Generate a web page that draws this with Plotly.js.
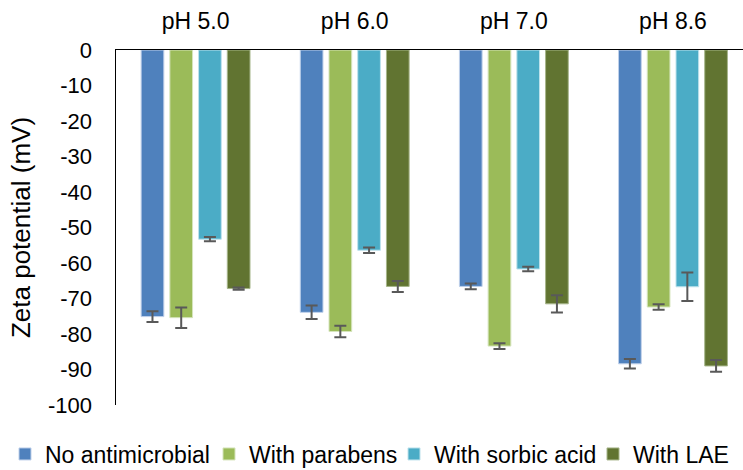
<!DOCTYPE html>
<html>
<head>
<meta charset="utf-8">
<script src="https://cdn.plot.ly/plotly-3.0.1.min.js"></script>
<style>html,body{margin:0;padding:0;background:#fff;}#chart{width:743px;height:470px;}</style>
</head>
<body>
<div id="chart"></div>
<script>
const categories = ["pH 5.0", "pH 6.0", "pH 7.0", "pH 8.6"];
const seriesNames = ["No antimicrobial", "With parabens", "With sorbic acid", "With LAE"];
const noAntimicrobial = [-75.1, -73.9, -66.6, -88.4];
const noAntimicrobialErr = [1.5, 1.9, 0.8, 1.35];
const withParabens = [-75.4, -79.3, -83.4, -72.4];
const withParabensErr = [2.9, 1.6, 0.8, 0.8];
const withSorbic = [-53.3, -56.4, -61.7, -66.7];
const withSorbicErr = [0.6, 0.75, 0.65, 4.0];
const withLAE = [-67.2, -66.6, -71.5, -89.0];
const withLAEErr = [0.3, 1.55, 2.45, 1.65];
const yTicks = [0, -10, -20, -30, -40, -50, -60, -70, -80, -90, -100];

const colors = ["#4F81BD", "#9BBB59", "#4BACC6", "#617431"];
const outlines = ["#BFD0EA", "#D5E4BC", "#BEE2EC", "#A6B58A"];
const vals = [noAntimicrobial, withParabens, withSorbic, withLAE];
const errs = [noAntimicrobialErr, withParabensErr, withSorbicErr, withLAEErr];
const legendIds = ["legend", "legend2", "legend3", "legend4"];
const legendTextX = [47, 251, 436, 635];

const FAM = "Liberation Sans, Arial, sans-serif";

const traces = vals.map((v, i) => ({
  type: "bar",
  name: seriesNames[i],
  x: categories,
  y: v,
  legend: legendIds[i],
  marker: {color: colors[i], line: {color: outlines[i], width: 1}},
  error_y: {type: "data", array: errs[i], visible: true, color: "#595959", thickness: 2, width: 6}
}));

const layout = {
  width: 743, height: 470,
  margin: {l: 116, r: 0, t: 50, b: 65, pad: 0},
  paper_bgcolor: "#fff", plot_bgcolor: "#fff",
  font: {family: FAM, size: 22, color: "#000"},
  barmode: "group",
  bargap: 0.278,
  bargroupgap: 0.21,
  showlegend: true,
  xaxis: {
    type: "category", side: "top", range: [-0.5, 3.44],
    showline: true, linecolor: "#000", linewidth: 1.5,
    ticks: "", showgrid: false, zeroline: false,
    ticklabelstandoff: 10,
    tickfont: {family: FAM, size: 23, color: "#000"}
  },
  yaxis: {
    range: [-100, 0], tickvals: yTicks, ticktext: yTicks.map(String),
    showline: true, linecolor: "#000", linewidth: 1.5,
    ticks: "", showgrid: false, zeroline: false,
    ticklabelstandoff: 18,
    tickfont: {family: FAM, size: 22, color: "#000"},
    title: {text: "Zeta potential (mV)", font: {family: FAM, size: 26, color: "#000"}, standoff: 10}
  }
};

legendIds.forEach((id, i) => {
  layout[id] = {
    orientation: "h", xref: "container", yref: "container",
    x: (legendTextX[i] - 42) / 743, xanchor: "left",
    y: (470 - 454) / 470, yanchor: "middle",
    font: {family: FAM, size: 23, color: "#000"},
    itemwidth: 30, bgcolor: "rgba(0,0,0,0)", borderwidth: 0
  };
});

Plotly.newPlot("chart", traces, layout, {displayModeBar: false, staticPlot: true});
</script>
</body>
</html>
